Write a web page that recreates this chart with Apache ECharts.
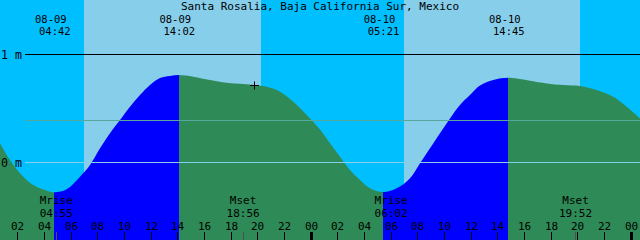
<!DOCTYPE html>
<html><head><meta charset="utf-8">
<script src="https://cdn.jsdelivr.net/npm/echarts@6/dist/echarts.min.js"></script>
<style>html,body{margin:0;padding:0;background:#00BFFF}#c{width:640px;height:240px}</style>
</head><body><div id="c"></div>
<script>
// ---- data (hours counted from 08-09 00:00, heights in metres) ----
const chartTitle = 'Santa Rosalia, Baja California Sur, Mexico';
const viewStartHour = 0.625;
const viewEndHour = 48.625;
const tideHours = [0.625,1.375,2.125,2.875,3.625,4.375,4.7,5.625,6.625,7.375,8.125,8.875,9.625,10.375,11.125,11.875,12.625,13.375,14.033,15.125,16.375,17.625,18.875,19.7,20.625,21.625,22.625,23.625,24.625,25.375,26.125,26.875,27.625,28.375,29.35,30.375,31.375,32.125,32.875,33.625,34.375,35.125,35.875,36.625,37.625,38.75,40.375,41.625,42.875,44.125,45.375,46.625,47.625,48.625];
const tideMeters = [0.176,0.021,-0.102,-0.189,-0.241,-0.272,-0.278,-0.25,-0.133,-0.025,0.130,0.269,0.392,0.515,0.623,0.716,0.78,0.80,0.808,0.793,0.762,0.737,0.725,0.716,0.700,0.654,0.561,0.438,0.304,0.176,0.052,-0.071,-0.164,-0.241,-0.275,-0.241,-0.148,-0.009,0.130,0.269,0.407,0.531,0.623,0.711,0.762,0.783,0.756,0.731,0.716,0.706,0.669,0.607,0.515,0.407];
const tideEventStamps = ['08-09 04:42','08-09 14:02','08-10 05:21','08-10 14:45'];
const tideEventKinds = ['low','high','low','high'];
const moonEventNames = ['Mrise','Mset','Mrise','Mset'];
const moonEventStamps = ['08-09 04:55','08-09 18:56','08-10 06:02','08-10 19:52'];
const sunriseStamps = ['08-09 06:56','08-10 06:56'];
const sunsetStamps = ['08-09 20:12','08-10 20:08'];
const tickHours = [2,4,6,8,10,12,14,16,18,20,22,24,26,28,30,32,34,36,38,40,42,44,46,48];
const depthLevels = [1, 0];
const depthLabels = ['1 m', '0 m'];
const meanLevel = 0.39;
const markerStamp = '08-09 19:42';
const markerLevel = 0.716;

// ---- helpers ----
function toHours(stamp) {
  const [d, t] = stamp.split(' ');
  const day = parseInt(d.split('-')[1], 10) - 9;
  const [hh, mm] = t.split(':').map(Number);
  return day * 24 + hh + mm / 60;
}
const pad2 = n => (n < 10 ? '0' : '') + n;
const FAMILY = '"DejaVu Sans Mono", monospace';
const BLACK = '#000000';
const C_NIGHT = '#00BFFF', C_DAY = '#87CEEB', C_RISE = '#0000FF', C_FALL = '#2E8B57';

// visual pieces: rising (low -> high) blue, falling sea green
const evH = tideEventStamps.map(toHours);
const pieces = [];
let prev = null;
evH.forEach((h, i) => {
  const col = tideEventKinds[i] === 'low' ? C_FALL : C_RISE; // colour before this event
  const p = { color: col, lt: h };
  if (prev !== null) p.gte = prev;
  pieces.push(p);
  prev = h;
});
pieces.push({ gte: prev, color: tideEventKinds[tideEventKinds.length - 1] === 'low' ? C_RISE : C_FALL });

const chart = echarts.init(document.getElementById('c'), null, { renderer: 'svg' });
const txt = (text, x, y, size, align) => ({ type: 'text', x, y, style: { text, font: size + 'px ' + FAMILY, fill: BLACK, align: align || 'center', verticalAlign: 'middle', lineHeight: 10 } });

chart.setOption({
  backgroundColor: C_NIGHT,
  animation: false,
  title: { text: chartTitle, left: 'center', top: 0.2, padding: 0, textStyle: { fontFamily: FAMILY, fontSize: 11, fontWeight: 'normal', color: BLACK, lineHeight: 12.8 } },
  grid: { left: 0, right: 0, top: 0, bottom: 0 },
  xAxis: { type: 'value', min: viewStartHour, max: viewEndHour, show: false },
  yAxis: { type: 'value', min: -0.719, max: 1.503, show: false },
  visualMap: { show: false, type: 'piecewise', dimension: 0, seriesIndex: 1, pieces },
  series: [
    { // daylight bands
      type: 'custom', z: 1, silent: true,
      data: sunriseStamps.map((s, i) => [toHours(s), toHours(sunsetStamps[i])]),
      encode: { x: [0, 1] },
      renderItem(params, api) {
        const a = api.coord([api.value(0), 0])[0];
        const b = api.coord([api.value(1), 0])[0];
        const cs = params.coordSys;
        return { type: 'rect', shape: { x: Math.round(a), y: cs.y, width: Math.round(b) - Math.round(a), height: cs.height }, style: { fill: C_DAY } };
      }
    },
    { // tide curve
      type: 'line', z: 2, silent: true, smooth: 0.35, symbol: 'none',
      data: tideHours.map((h, i) => [h, tideMeters[i]]),
      lineStyle: { width: 0 },
      areaStyle: { opacity: 1, origin: 'start' }
    },
    { // depth lines and mean level
      type: 'custom', z: 3, silent: true,
      data: depthLevels.map((v, i) => [viewStartHour, v, i]).concat([[viewStartHour, meanLevel, -1]]),
      renderItem(params, api) {
        const idx = api.value(2);
        const y = Math.round(api.coord([viewStartHour, api.value(1)])[1]) + 0.5;
        const cs = params.coordSys;
        const color = idx === -1 ? '#55A89B' : (api.value(1) === 0 ? C_DAY : BLACK);
        const kids = [{ type: 'line', shape: { x1: 25, y1: y, x2: cs.x + cs.width, y2: y }, style: { stroke: color, lineWidth: 1 } }];
        if (idx >= 0) kids.push(txt(depthLabels[idx], 1, y, 11.6, 'left'));
        return { type: 'group', children: kids };
      }
    },
    { // tide event labels
      type: 'custom', z: 4, silent: true,
      data: evH.map((h, i) => [h, 0, i]),
      renderItem(params, api) {
        const i = api.value(2);
        const x = api.coord([api.value(0), 0])[0];
        const [d, t] = tideEventStamps[i].split(' ');
        return { type: 'group', children: [txt(d, x - 3.5, 19.1, 10.5), txt(t, x + 0.5, 31.4, 10.5)] };
      }
    },
    { // moon events
      type: 'custom', z: 4, silent: true,
      data: moonEventStamps.map((s, i) => [toHours(s), 0, i]),
      renderItem(params, api) {
        const i = api.value(2);
        const x = api.coord([api.value(0), 0])[0];
        const cs = params.coordSys;
        const bottom = cs.y + cs.height;
        return { type: 'group', children: [
          { type: 'rect', shape: { x: Math.floor(x) - 1, y: bottom - 8, width: 1, height: 8 }, style: { fill: '#505050' } },
          txt(moonEventNames[i], x - 1, 200.9, 11),
          txt(moonEventStamps[i].split(' ')[1], x - 1, 213.9, 11)
        ] };
      }
    },
    { // hour ticks
      type: 'custom', z: 5, silent: true,
      data: tickHours.map(h => [h, 0]),
      renderItem(params, api) {
        const h = api.value(0);
        const x = Math.round(api.coord([h, 0])[0]) - 1;
        const cs = params.coordSys;
        const bottom = cs.y + cs.height;
        const midnight = h % 24 === 0;
        return { type: 'group', children: [
          { type: 'rect', shape: { x: midnight ? x - 1 : x, y: bottom - 8, width: midnight ? 3 : 1, height: 8 }, style: { fill: BLACK } },
          txt(pad2(h % 24), x + 0.5, 226.9, 11)
        ] };
      }
    },
    { // plus marker
      type: 'custom', z: 6, silent: true,
      data: [[toHours(markerStamp), markerLevel]],
      renderItem(params, api) {
        const p = api.coord([api.value(0), api.value(1)]);
        const x = Math.round(p[0]) + 0.5, y = Math.round(p[1]) + 0.5;
        return { type: 'group', children: [
          { type: 'line', shape: { x1: x - 4.5, y1: y, x2: x + 4.5, y2: y }, style: { stroke: BLACK, lineWidth: 1 } },
          { type: 'line', shape: { x1: x, y1: y - 4, x2: x, y2: y + 4 }, style: { stroke: BLACK, lineWidth: 1 } }
        ] };
      }
    }
  ]
});
</script></body></html>
